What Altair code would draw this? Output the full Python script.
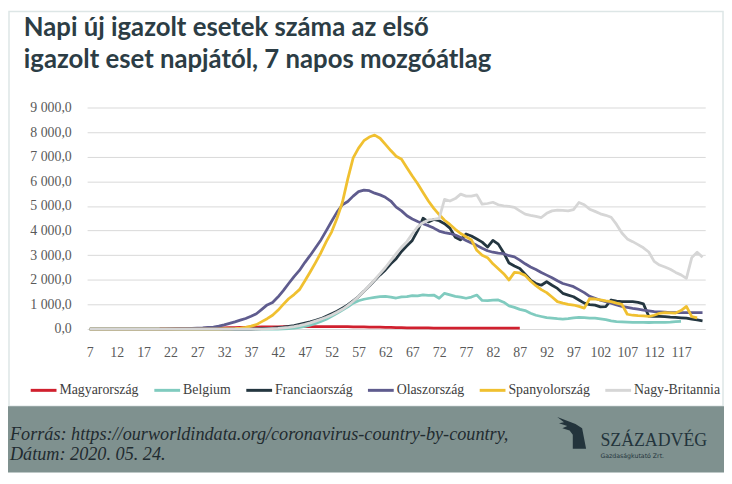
import altair as alt
import pandas as pd

# ---- data (7-day moving average of daily new confirmed cases, by day index) ----
countries = ["Magyarország", "Belgium", "Franciaország", "Olaszország", "Spanyolország", "Nagy-Britannia"]
colors = ["#d0202e", "#80cbbf", "#243640", "#5f5c8e", "#f0c030", "#d6d6d6"]

hu_start = 20
hu = [5, 8, 10, 12, 15, 18, 20, 25, 30, 35,
      40, 45, 50, 55, 60, 65, 70, 75, 80, 85,
      85, 90, 90, 95, 95, 100, 100, 100, 100, 100,
      100, 100, 100, 100, 95, 95, 90, 90, 85, 80,
      80, 75, 70, 65, 60, 55, 50, 50, 45, 45,
      45, 40, 40, 40, 40, 40, 40, 40, 40, 40,
      40, 40, 40, 40, 40, 40, 40, 40]

be_start = 7
be = [0] * 36 + [
    10, 20, 40, 70, 110, 160, 230, 310, 400, 520,
    640, 770, 900, 1050, 1150, 1210, 1250, 1290, 1320, 1330,
    1300, 1260, 1310, 1320, 1360, 1350, 1390, 1370, 1380, 1250,
    1450, 1390, 1330, 1300, 1250, 1300, 1380, 1160, 1150, 1170,
    1180, 1090, 940, 880, 800, 750, 640, 560, 510, 460,
    440, 420, 405, 420, 450, 470, 460, 445, 440, 410,
    380, 330, 300, 290, 280, 270, 268, 268, 265, 268,
    270, 275, 285, 300, 310]

fr_start = 7
fr = [0] * 31 + [
    10, 20, 30, 40, 60, 80, 105, 140, 190, 240,
    290, 350, 420, 520, 620, 720, 850, 980, 1150, 1320,
    1530, 1750, 1980, 2200, 2400, 2650, 2860, 3150, 3380, 3600,
    4000, 4500, 4350, 4450, 4400, 4280, 4100, 3730, 3620, 3860,
    3780, 3660, 3530, 3330, 3600, 3450, 3100, 2680, 2560, 2460,
    2230, 1990, 1850, 1780, 1920, 1780, 1650, 1450, 1380, 1310,
    1180, 1050, 990, 970, 900, 910, 1180, 1130, 1114, 1110,
    1110, 1080, 1020, 520, 510, 510, 500, 480, 470, 455,
    443, 400, 370, 336]

it_start = 7
it = [0] * 15 + [
    5, 10, 15, 20, 30, 40, 50, 65, 80, 120,
    170, 230, 290, 360, 430, 520, 620, 800, 980, 1080,
    1300, 1560, 1850, 2130, 2380, 2700, 2990, 3300, 3620, 4000,
    4380, 4750, 5050, 5180, 5400, 5580, 5640, 5620, 5520, 5450,
    5350, 5200, 4950, 4800, 4600, 4470, 4370, 4280, 4200, 4100,
    3980, 3920, 3880, 3820, 3720, 3600, 3500, 3400, 3280, 3180,
    3120, 3080, 3060, 2980, 2930, 2800, 2650, 2520, 2420, 2300,
    2190, 2080, 1960, 1850, 1790, 1720, 1600, 1480, 1330, 1250,
    1170, 1114, 1050, 980, 920, 880, 840, 805, 770, 740,
    711, 700, 690, 671, 670, 670, 671, 670, 671, 671]

es_start = 7
es = [0] * 25 + [
    5, 10, 20, 40, 70, 120, 180, 300, 420, 560,
    760, 1000, 1230, 1400, 1600, 1950, 2320, 2700, 3100, 3550,
    3950, 4500, 5150, 6100, 6950, 7350, 7650, 7800, 7880, 7750,
    7500, 7250, 7020, 6900, 6550, 6215, 5900, 5550, 5200, 4900,
    4650, 4420, 4250, 4050, 3880, 3750, 3620, 3200, 3000, 2900,
    2650, 2450, 2250, 1990, 2300, 2280, 2180, 1950, 1760, 1600,
    1480, 1300, 1114, 1050, 1000, 975, 920, 850, 1230, 1220,
    1180, 1140, 1110, 1050, 1000, 600, 560, 540, 530, 510,
    560, 640, 670, 660, 650, 750, 920, 500, 450]

uk_start = 7
uk = [0] * 33 + [
    10, 20, 30, 50, 70, 100, 140, 190, 250, 320,
    400, 480, 570, 680, 800, 950, 1130, 1320, 1530, 1760,
    2000, 2250, 2500, 2780, 3060, 3330, 3550, 3870, 4150, 4320,
    4430, 4460, 4500, 5270, 5200, 5300, 5480, 5400, 5400, 5450,
    5070, 5100, 5150, 5050, 5000, 4980, 4940, 4800, 4670, 4620,
    4580, 4530, 4700, 4800, 4830, 4820, 4800, 4850, 5140, 5050,
    4870, 4780, 4680, 4620, 4540, 4250, 3900, 3660, 3550, 3430,
    3300, 3130, 2750, 2600, 2520, 2430, 2300, 2200, 2060, 2900,
    3120, 2920]

x_ticks = list(range(7, 118, 5))
y_ticks = list(range(0, 9001, 1000))

title_lines = ["Napi új igazolt esetek száma az első",
               "igazolt eset napjától, 7 napos mozgóátlag"]
source_lines = ["Forrás: https://ourworldindata.org/coronavirus-country-by-country,",
                "Dátum: 2020. 05. 24."]
logo_name = "SZÁZADVÉG"
logo_sub = "Gazdaságkutató Zrt."

# ---- build table ----
series = [(hu_start, hu), (be_start, be), (fr_start, fr), (it_start, it), (es_start, es), (uk_start, uk)]
rows = []
for name, (start, vals) in zip(countries, series):
    for i, v in enumerate(vals):
        rows.append({"day": start + i, "value": v, "country": name})
df = pd.DataFrame(rows)

SERIF = "Liberation Serif"
W, H = 625, 224

color_enc = alt.Color(
    "country:N",
    scale=alt.Scale(domain=countries, range=colors),
    legend=alt.Legend(
        title=None, orient="none", direction="horizontal",
        legendX=-59, legendY=271,
        symbolType="stroke", symbolSize=680, symbolStrokeWidth=3,
        labelFont=SERIF, labelFontSize=14, labelColor="#404040",
        labelOffset=1, columnPadding=8, padding=0,
    ),
)

x_enc = alt.X("day:Q", scale=alt.Scale(domain=[6.5, 121.5], nice=False, zero=False),
              axis=alt.Axis(title=None, values=x_ticks, grid=False, ticks=False, tickSize=0,
                            domain=False, labelFont=SERIF, labelFontSize=14, labelColor="#595959",
                            labelPadding=17, labelOverlap=False, labelFlush=False))
y_enc = alt.Y("value:Q", scale=alt.Scale(domain=[0, 9000], nice=False),
              axis=alt.Axis(title=None, values=y_ticks, grid=True, gridColor="#d9d9d9", gridWidth=1,
                            ticks=False, tickSize=0, domain=False,
                            labelFont=SERIF, labelFontSize=14, labelColor="#595959",
                            labelPadding=16, labelFlush=False,
                            labelExpr="replace(replace(format(datum.value, ',.1f'), ',', ' '), '.', ',')"))

base = alt.Chart(df)
line_layers = []
for name in countries:
    line_layers.append(
        base.transform_filter(alt.datum.country == name)
        .mark_line(strokeWidth=2.8, strokeJoin="round")
        .encode(x=x_enc, y=y_enc, color=color_enc)
    )


def txt(text, x, y, **kw):
    return alt.Chart(pd.DataFrame({"t": [text]})).mark_text(
        align="left", baseline="alphabetic", **kw
    ).encode(x=alt.value(x), y=alt.value(y), text="t:N")


one = pd.DataFrame({"k": [0]})
border = alt.Chart(one).mark_rect(fillOpacity=0, stroke="#dde6e6", strokeWidth=1.5).encode(
    x=alt.value(-79), x2=alt.value(643), y=alt.value(-97), y2=alt.value(302))
footer = alt.Chart(one).mark_rect(color="#7f918f").encode(
    x=alt.value(-80), x2=alt.value(644), y=alt.value(302), y2=alt.value(369))
bird = alt.Chart(one).mark_point(
    filled=True, color="#23343c", opacity=1, strokeWidth=0,
    shape=("M -0.88 -1.0 L 0.27 -0.56 L 0.69 -0.29 L 0.94 1.0 L 0.1 1.0 L 0.1 0.12 "
           "L -0.1 -0.15 L -0.56 -0.29 L -0.25 -0.44 L -0.77 -0.6 L -0.46 -0.67 Z"),
    size=1024).encode(x=alt.value(489.5), y=alt.value(329))

text_layers = [
    txt(title_lines[0], -64, -72, font="Lato", fontSize=26, fontWeight="bold", color="#2c3d45"),
    txt(title_lines[1], -64, -40, font="Lato", fontSize=26, fontWeight="bold", color="#2c3d45"),
    txt(source_lines[0], -78, 336, font="Liberation Sans Narrow", fontSize=18.4, fontStyle="italic", color="#1f2b30"),
    txt(source_lines[1], -78, 356, font="Liberation Sans Narrow", fontSize=18.4, fontStyle="italic", color="#1f2b30"),
    txt(logo_name, 519, 342, font=SERIF, fontSize=18, color="#23343c"),
    txt(logo_sub, 519, 354, font="DejaVu Sans", fontSize=6.3, color="#23343c"),
]

chart = alt.layer(border, footer, *line_layers, bird, *text_layers).properties(
    width=W, height=H,
    autosize=alt.AutoSizeParams(type="none"),
    padding={"left": 80, "top": 98, "right": 19, "bottom": 146},
    background="white",
).configure_view(strokeWidth=0)

chart.save("out.html", embed_options={"renderer": "svg", "actions": False})
